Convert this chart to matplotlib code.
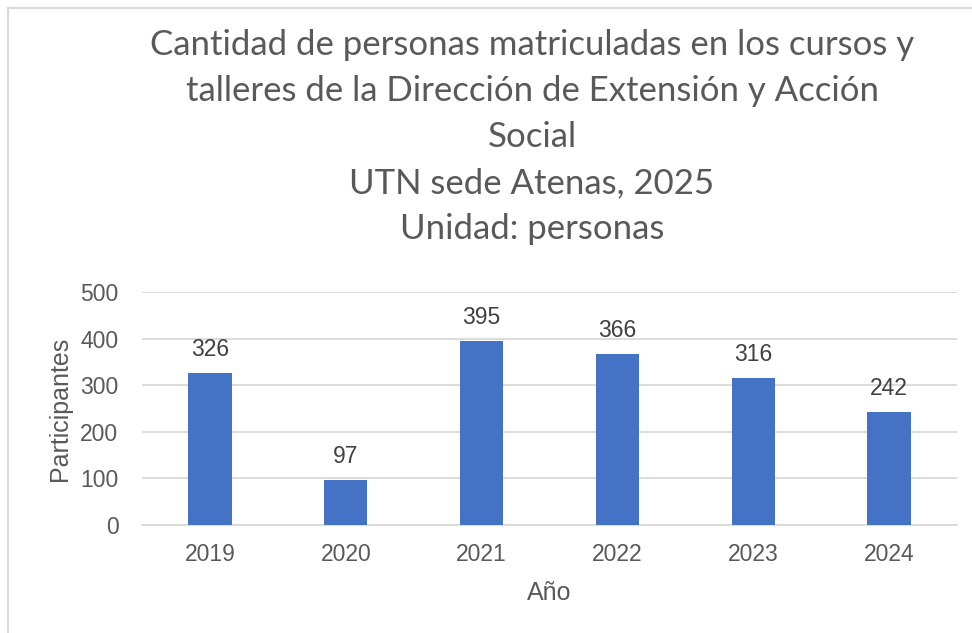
import matplotlib
matplotlib.use("Agg")
import matplotlib.pyplot as plt
from matplotlib.lines import Line2D

years = ["2019", "2020", "2021", "2022", "2023", "2024"]
participants = [326, 97, 395, 366, 316, 242]
yticks = [0, 100, 200, 300, 400, 500]

title = ("Cantidad de personas matriculadas en los cursos y\n"
         "talleres de la Dirección de Extensión y Acción\n"
         "Social\n"
         "UTN sede Atenas, 2025\n"
         "Unidad: personas")

TXT = "#595959"
GRID = "#D9D9D9"
BAR = "#4472C4"

W, H = 972, 633
fig = plt.figure(figsize=(W / 100, H / 100), dpi=100)
fig.patch.set_facecolor("white")

ax = fig.add_axes([142 / W, 1 - 525 / H, (957 - 142) / W, (525 - 292) / H])
x = list(range(len(years)))
ax.bar(x, participants, width=0.32, color=BAR, zorder=3)
ax.set_xlim(-0.5, len(years) - 0.5)
ax.set_ylim(0, 500)
ax.set_yticks(yticks)
ax.set_xticks(x)
ax.set_xticklabels(years)
ax.grid(axis="y", color=GRID, linewidth=1.3, zorder=0)
for s in ["top", "right", "left"]:
    ax.spines[s].set_visible(False)
ax.spines["bottom"].set_color(GRID)
ax.spines["bottom"].set_linewidth(1.3)
ax.tick_params(axis="both", length=0, colors=TXT, labelsize=16.5)
ax.tick_params(axis="y", pad=17)
ax.tick_params(axis="x", pad=13)
for lab in ax.get_xticklabels() + ax.get_yticklabels():
    lab.set_fontfamily("Liberation Sans")

for xi, v in zip(x, participants):
    ax.annotate(str(v), (xi, v), xytext=(0, 17), textcoords="offset points",
                ha="center", va="center", fontsize=16.5, color="#404040",
                family="Liberation Sans")

ax.set_ylabel("Participantes", fontsize=18, color=TXT, family="Liberation Sans", labelpad=6)
ax.set_xlabel("Año", fontsize=18, color=TXT, family="Liberation Sans", labelpad=11)

fig.text(532 / W, 1 - 137 / H, title, ha="center", va="center", fontsize=25,
         color=TXT, family="Lato", linespacing=1.54)

fig.add_artist(Line2D([8 / W, 8 / W], [0, 1 - 8 / H], color=GRID, linewidth=1.5,
                      transform=fig.transFigure))
fig.add_artist(Line2D([8 / W, 1], [1 - 8 / H, 1 - 8 / H], color=GRID, linewidth=1.5,
                      transform=fig.transFigure))

fig.savefig("out.png", dpi=100, facecolor="white")
